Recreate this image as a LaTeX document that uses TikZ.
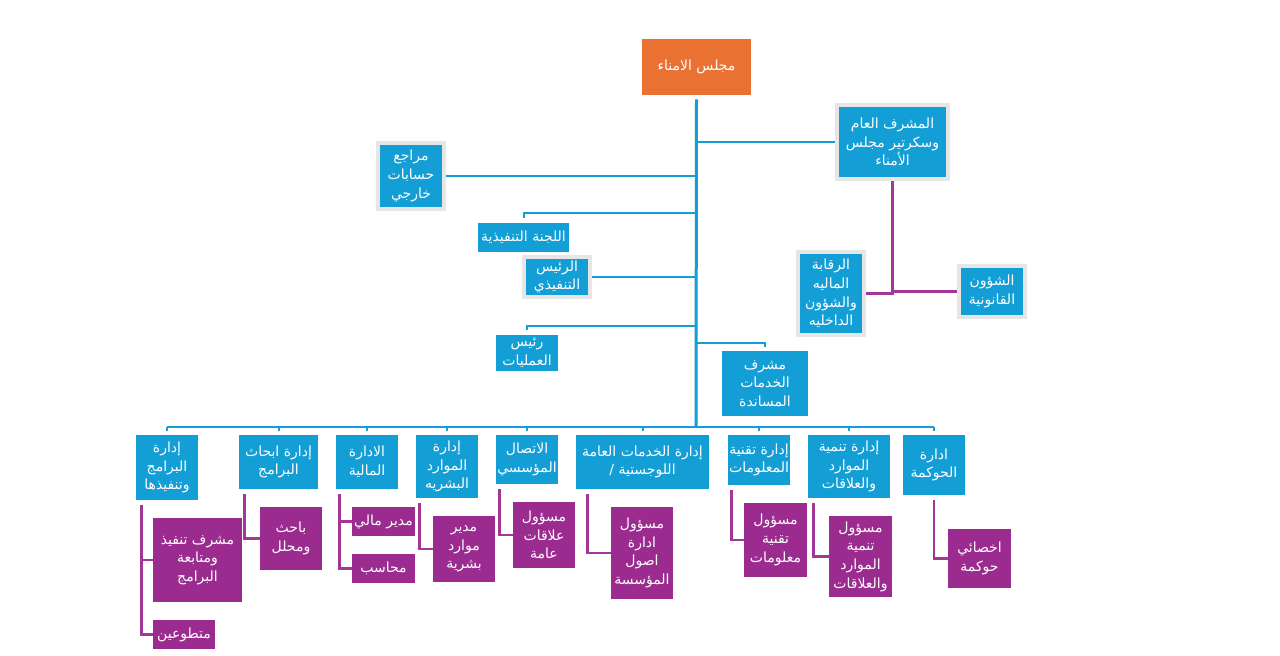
\documentclass[tikz,border=0pt]{standalone}
\usepackage{fontspec}
\usepackage{xcolor}
\usetikzlibrary{calc}
\TeXXeTstate=1
\newfontfamily\arabicfont[Script=Arabic]{DejaVu Sans}
\newcommand\rl[1]{\beginR#1\endR}
\newdimen\pxl \pxl=0.75pt
\definecolor{orgblue}{RGB}{19,158,214}
\definecolor{orgpurple}{RGB}{155,43,143}
\definecolor{orgorange}{RGB}{233,113,50}
\definecolor{framegray}{RGB}{230,230,230}
\definecolor{linepurple}{RGB}{163,54,153}

\begin{document}
\begin{tikzpicture}[x=0.75pt, y=-0.75pt,
  box/.style 2 args={rectangle, inner sep=0pt, align=center, text=white, minimum width=#1\pxl, minimum height=#2\pxl, font=\arabicfont\fontsize{10.5}{14}\selectfont},
  bluebox/.style 2 args={box={#1}{#2}, fill=orgblue},
  purplebox/.style 2 args={box={#1}{#2}, fill=orgpurple},
  framed/.style={draw=framegray, line width=4\pxl},
  trunk/.style={draw=orgblue, line width=3\pxl},
  branch/.style={draw=orgblue, line width=2\pxl},
  sub/.style={draw=linepurple, line width=2.5\pxl, shorten <=5\pxl}]
  \fill[white] (0,0) rectangle (1280,656);
  \useasboundingbox (0,0) rectangle (1280,656);
  \node[box={109}{56}, fill=orgorange] (board) at (696.5,67) {\rl{مجلس الامناء}};
  \node[bluebox={111}{74}, framed] (gensup) at (892.5,142) {\rl{المشرف العام}\\\rl{وسكرتير مجلس}\\\rl{الأمناء}};
  \node[bluebox={66}{66}, framed] (auditor) at (411,176) {\rl{مراجع}\\\rl{حسابات}\\\rl{خارجي}};
  \node[bluebox={91}{29}] (excom) at (523.5,237.5) {\rl{اللجنة التنفيذية}};
  \node[bluebox={66}{40}, framed] (ceo) at (557,277) {\rl{الرئيس}\\\rl{التنفيذي}};
  \node[bluebox={62}{36}] (ops) at (527,353) {\rl{رئيس}\\\rl{العمليات}};
  \node[bluebox={86}{65}] (support) at (765,383.5) {\rl{مشرف}\\\rl{الخدمات}\\\rl{المساندة}};
  \node[bluebox={66}{83}, framed] (control) at (831,293.5) {\rl{الرقابة}\\\rl{الماليه}\\\rl{والشؤون}\\\rl{الداخليه}};
  \node[bluebox={66}{51}, framed] (legal) at (992,291.5) {\rl{الشؤون}\\\rl{القانونية}};
  \node[bluebox={62}{65}] (prog) at (167,467.5) {\rl{إدارة}\\\rl{البرامج}\\\rl{وتنفيذها}};
  \node[bluebox={79}{54}] (research) at (278.5,462) {\rl{إدارة ابحاث}\\\rl{البرامج}};
  \node[bluebox={62}{54}] (finance) at (367,462) {\rl{الادارة}\\\rl{المالية}};
  \node[bluebox={62}{63}] (hr) at (447,466.5) {\rl{إدارة}\\\rl{الموارد}\\\rl{البشريه}};
  \node[bluebox={62}{49}] (comms) at (527,459.5) {\rl{الاتصال}\\\rl{المؤسسي}};
  \node[bluebox={133}{54}] (logist) at (642.5,462) {\rl{إدارة الخدمات العامة}\\\rl{اللوجستية /}};
  \node[bluebox={62}{50}] (it) at (759,460) {\rl{إدارة تقنية}\\\rl{المعلومات}};
  \node[bluebox={82}{63}] (devel) at (849,466.5) {\rl{إدارة تنمية}\\\rl{الموارد}\\\rl{والعلاقات}};
  \node[bluebox={62}{60}] (govern) at (934,465) {\rl{ادارة}\\\rl{الحوكمة}};
  \node[purplebox={89}{84}] (progsup) at (197.5,560) {\rl{مشرف تنفيذ}\\\rl{ومتابعة}\\\rl{البرامج}};
  \node[purplebox={62}{29}] (volunt) at (184,634.5) {\rl{متطوعين}};
  \node[purplebox={62}{63}] (analyst) at (291,538.5) {\rl{باحث}\\\rl{ومحلل}};
  \node[purplebox={63}{29}] (finmgr) at (383.5,521.5) {\rl{مدير مالي}};
  \node[purplebox={63}{29}] (account) at (383.5,568.5) {\rl{محاسب}};
  \node[purplebox={62}{66}] (hrmgr) at (464,549) {\rl{مدير}\\\rl{موارد}\\\rl{بشرية}};
  \node[purplebox={62}{66}] (pr) at (544,535) {\rl{مسؤول}\\\rl{علاقات}\\\rl{عامة}};
  \node[purplebox={62}{92}] (assets) at (642,553) {\rl{مسؤول}\\\rl{ادارة}\\\rl{اصول}\\\rl{المؤسسة}};
  \node[purplebox={63}{74}] (itoff) at (775.5,540) {\rl{مسؤول}\\\rl{تقنية}\\\rl{معلومات}};
  \node[purplebox={63}{81}] (devoff) at (860.5,556.5) {\rl{مسؤول}\\\rl{تنمية}\\\rl{الموارد}\\\rl{والعلاقات}};
  \node[purplebox={63}{59}] (govspec) at (979.5,558.5) {\rl{اخصائي}\\\rl{حوكمة}};
  \coordinate (bus) at (696,426.5);
  \draw[trunk, shorten <=4\pxl] (board.south) -- (bus);
  \draw[branch] (bus -| prog.north) -- (bus -| govern.north);
  \foreach \n in {prog,research,finance,hr,comms,logist,it,devel,govern}
    \draw[branch, shorten >=4\pxl] (bus -| \n.north) -- (\n.north);
  \draw[branch] (bus |- gensup.west) -- (gensup.west);
  \draw[branch] (auditor.east) -- (auditor.east -| bus);
  \draw[branch] (ceo.east) -- (ceo.east -| bus);
  \draw[branch, shorten >=5\pxl] ([yshift=10\pxl]excom.north -| bus) -| (excom.north);
  \draw[branch, shorten >=5\pxl] ([yshift=9\pxl]ops.north -| bus) -| (ops.north);
  \draw[branch, shorten >=4\pxl] ([yshift=8\pxl]support.north -| bus) -| (support.north);
  \draw[sub, shorten <=0pt] (gensup.south) |- (control.east);
  \draw[sub, shorten <=0pt] (gensup.south) |- (legal.west);
  \draw[sub] ([xshift=6\pxl]prog.south west) |- (progsup.west);
  \draw[sub] ([xshift=6\pxl]prog.south west) |- (volunt.west);
  \draw[sub] ([xshift=6\pxl]research.south west) |- (analyst.west);
  \draw[sub] ([xshift=4\pxl]finance.south west) |- (finmgr.west);
  \draw[sub] ([xshift=4\pxl]finance.south west) |- (account.west);
  \draw[sub] ([xshift=4\pxl]hr.south west) |- (hrmgr.west);
  \draw[sub] ([xshift=4\pxl]comms.south west) |- (pr.west);
  \draw[sub] ([xshift=12\pxl]logist.south west) |- (assets.west);
  \draw[sub] ([xshift=4\pxl]it.south west) |- (itoff.west);
  \draw[sub] ([xshift=6\pxl]devel.south west) |- (devoff.west);
  \draw[sub] (govern.south) |- (govspec.west);
\end{tikzpicture}
\end{document}
